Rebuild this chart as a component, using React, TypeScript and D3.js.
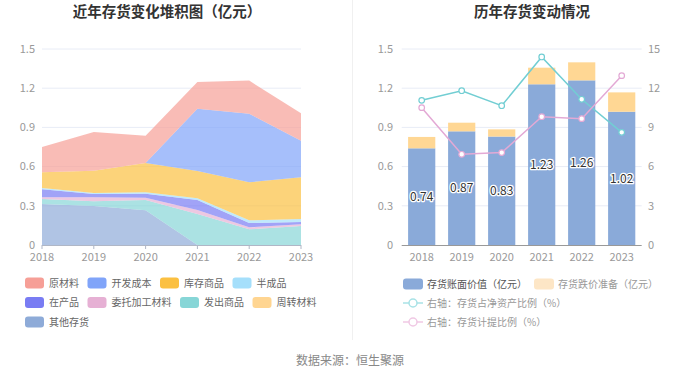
import React from 'react';
import * as d3 from 'd3';

const years = ['2018', '2019', '2020', '2021', '2022', '2023'];

// Left chart: stacked inventory composition (亿元)
const rawMaterial = [0.194, 0.296, 0.209, 0.204, 0.253, 0.21];
const devCost = [0, 0, 0, 0.477, 0.525, 0.28];
const goodsInStock = [0.12, 0.171, 0.225, 0.209, 0.291, 0.319];
const semiFinished = [0.01, 0.008, 0.01, 0.013, 0.021, 0.023];
const wip = [0.061, 0.025, 0.031, 0.076, 0.033, 0.018];
const consigned = [0.013, 0.031, 0.018, 0.031, 0.015, 0.013];
const shipped = [0.038, 0.036, 0.079, 0.237, 0.12, 0.145];
const turnover = [0, 0, 0, 0, 0, 0];
const otherInv = [0.314, 0.298, 0.265, 0, 0, 0];

const leftSeries = [
  { name: '原材料', values: rawMaterial, color: '#f69f97' },
  { name: '开发成本', values: devCost, color: '#80a4f9' },
  { name: '库存商品', values: goodsInStock, color: '#fbc041' },
  { name: '半成品', values: semiFinished, color: '#a5dffb' },
  { name: '在产品', values: wip, color: '#797cf3' },
  { name: '委托加工材料', values: consigned, color: '#e6b0d4' },
  { name: '发出商品', values: shipped, color: '#87d6d7' },
  { name: '周转材料', values: turnover, color: '#ffd591' },
  { name: '其他存货', values: otherInv, color: '#8eabd8' },
];

// Right chart
const bookValue = [0.74, 0.87, 0.83, 1.23, 1.26, 1.02];
const impairment = [0.087, 0.066, 0.055, 0.127, 0.138, 0.148];
const netAssetRatio = [11.07, 11.81, 10.66, 14.39, 11.15, 8.62];
const provisionRatio = [10.51, 6.94, 7.07, 9.82, 9.67, 12.96];

const leftTicks = [0, 0.3, 0.6, 0.9, 1.2, 1.5];
const rightTicks = [0, 3, 6, 9, 12, 15];

const FONT = '"Noto Sans CJK SC", "Noto Sans", sans-serif';

export default function App() {
  const W = 700;
  const H = 378;
  const top = 49;
  const bottom = 245;

  // Left chart scales
  const lx = d3.scalePoint<string>().domain(years).range([42, 301]);
  const ly = d3.scaleLinear().domain([0, 1.5]).range([bottom, top]);

  const stackOrder = [...leftSeries].reverse();
  const tableRows = years.map((y, i) => {
    const row: any = { year: y };
    stackOrder.forEach((s) => (row[s.name] = s.values[i]));
    return row;
  });
  const stacked = d3.stack<any>().keys(stackOrder.map((s) => s.name))(tableRows);
  const area = d3
    .area<any>()
    .x((d) => lx(d.data.year) as number)
    .y0((d) => ly(d[0]))
    .y1((d) => ly(d[1]));
  const topLine = d3
    .line<any>()
    .x((d) => lx(d.data.year) as number)
    .y((d) => ly(d[1]));

  // Right chart scales
  const rx = d3.scaleBand<string>().domain(years).range([401.7, 641.7]).paddingInner(0.32).paddingOuter(0.16);
  const ry = d3.scaleLinear().domain([0, 1.5]).range([bottom, top]);
  const ry2 = d3.scaleLinear().domain([0, 15]).range([bottom, top]);
  const cx = (y: string) => (rx(y) as number) + rx.bandwidth() / 2;
  const line = d3
    .line<number>()
    .x((_, i) => cx(years[i]))
    .y((d) => ry2(d));

  // Left legend layout
  const legendItems: { name: string; color: string; x: number; y: number }[] = [];
  {
    let x = 25;
    let y = 283;
    leftSeries.forEach((s) => {
      const w = 24 + s.name.length * 10 + 8.5;
      if (x + w - 8.5 > 335) {
        x = 25;
        y += 19.5;
      }
      legendItems.push({ name: s.name, color: s.color, x, y });
      x += w;
    });
  }

  return (
    <svg
      width={W}
      height={H}
      style={{ position: 'absolute', left: 0, top: 0, background: '#fff' }}
      fontFamily={FONT}
    >
      {/* Titles */}
      <text x={167} y={17} textAnchor="middle" fontSize={14.5} fontWeight="bold" fill="#333">
        近年存货变化堆积图（亿元）
      </text>
      <text x={532} y={17} textAnchor="middle" fontSize={14.5} fontWeight="bold" fill="#333">
        历年存货变动情况
      </text>
      <line x1={352.5} x2={352.5} y1={0} y2={340} stroke="#f0f0f0" />

      {/* Left chart grid */}
      {leftTicks.map((t) => (
        <g key={'lg' + t}>
          {t > 0 && <line x1={42} x2={301} y1={ly(t)} y2={ly(t)} stroke="#e8ecf6" />}
          <text x={35} y={ly(t)} dy="0.35em" textAnchor="end" fontSize={11} fill="#999">
            {t === 0 ? '0' : t.toFixed(1)}
          </text>
        </g>
      ))}
      {stacked.map((layer, i) => {
        const s = stackOrder[i];
        return (
          <g key={s.name}>
            <path d={area(layer) as string} fill={s.color} fillOpacity={0.7} />
          </g>
        );
      })}
      <line x1={42} x2={301} y1={bottom + 0.5} y2={bottom + 0.5} stroke="#b0b7c6" />
      {years.map((y) => (
        <g key={'lx' + y}>
          <line x1={lx(y)} x2={lx(y)} y1={bottom} y2={bottom + 4} stroke="#b0b7c6" />
          <text x={lx(y)} y={257} dy="0.35em" textAnchor="middle" fontSize={11} fill="#999">
            {y}
          </text>
        </g>
      ))}

      {/* Left legend */}
      {legendItems.map((it) => (
        <g key={'ll' + it.name}>
          <rect x={it.x} y={it.y - 5.5} width={19} height={11} rx={3} fill={it.color} />
          <text x={it.x + 24} y={it.y} dy="0.35em" fontSize={10} fill="#666">
            {it.name}
          </text>
        </g>
      ))}

      {/* Right chart grid */}
      {leftTicks.map((t, i) => (
        <g key={'rg' + t}>
          {t > 0 && <line x1={401.7} x2={641.7} y1={ry(t)} y2={ry(t)} stroke="#e8ecf6" />}
          <text x={393} y={ry(t)} dy="0.35em" textAnchor="end" fontSize={11} fill="#999">
            {t === 0 ? '0' : t.toFixed(1)}
          </text>
          <text x={648} y={ry2(rightTicks[i])} dy="0.35em" textAnchor="start" fontSize={11} fill="#999">
            {rightTicks[i]}
          </text>
        </g>
      ))}
      {years.map((y, i) => (
        <g key={'bar' + y}>
          <rect
            x={rx(y)}
            y={ry(bookValue[i])}
            width={rx.bandwidth()}
            height={bottom - ry(bookValue[i])}
            fill="#8aaad9"
          />
          <rect
            x={rx(y)}
            y={ry(bookValue[i] + impairment[i])}
            width={rx.bandwidth()}
            height={ry(bookValue[i]) - ry(bookValue[i] + impairment[i])}
            fill="#ffd794"
          />
        </g>
      ))}
      <line x1={401.7} x2={641.7} y1={bottom + 0.5} y2={bottom + 0.5} stroke="#999" />
      {years.map((y) => (
        <text key={'rx' + y} x={cx(y)} y={257} dy="0.35em" textAnchor="middle" fontSize={11} fill="#999">
          {y}
        </text>
      ))}
      <path d={line(netAssetRatio) as string} fill="none" stroke="#72ced3" strokeWidth={1.5} />
      <path d={line(provisionRatio) as string} fill="none" stroke="#e3a9d5" strokeWidth={1.5} />
      {netAssetRatio.map((v, i) => (
        <circle key={'nc' + i} cx={cx(years[i])} cy={ry2(v)} r={2.8} fill="#fff" stroke="#72ced3" strokeWidth={1.2} />
      ))}
      {provisionRatio.map((v, i) => (
        <circle key={'pc' + i} cx={cx(years[i])} cy={ry2(v)} r={2.8} fill="#fff" stroke="#e3a9d5" strokeWidth={1.2} />
      ))}
      {years.map((y, i) => (
        <text
          key={'bl' + y}
          x={cx(y)}
          y={(ry(bookValue[i]) + bottom) / 2}
          dy="0.35em"
          textAnchor="middle"
          fontSize={12}
          fill="#333"
          stroke="#fff"
          strokeWidth={2.5}
          paintOrder="stroke"
          strokeLinejoin="round"
        >
          {bookValue[i].toFixed(2)}
        </text>
      ))}

      {/* Right legend */}
      <g>
        <rect x={403} y={278.5} width={20} height={11} rx={3} fill="#8aaad9" />
        <text x={427} y={284} dy="0.35em" fontSize={10} fill="#555">
          存货账面价值（亿元）
        </text>
        <rect x={534} y={278.5} width={20} height={11} rx={3} fill="#fde6c6" />
        <text x={558} y={284} dy="0.35em" fontSize={10} fill="#999">
          存货跌价准备（亿元）
        </text>
        <line x1={403} x2={423} y1={303} y2={303} stroke="#a8e2e6" strokeWidth={1.5} />
        <circle cx={413} cy={303} r={4} fill="#fff" stroke="#a8e2e6" strokeWidth={1.5} />
        <text x={427} y={303} dy="0.35em" fontSize={10} fill="#999">
          右轴：存货占净资产比例（%）
        </text>
        <line x1={403} x2={423} y1={322} y2={322} stroke="#f0c8e4" strokeWidth={1.5} />
        <circle cx={413} cy={322} r={4} fill="#fff" stroke="#f0c8e4" strokeWidth={1.5} />
        <text x={427} y={322} dy="0.35em" fontSize={10} fill="#999">
          右轴：存货计提比例（%）
        </text>
      </g>

      {/* Source */}
      <text x={350} y={361} dy="0.35em" textAnchor="middle" fontSize={12} fill="#888">
        数据来源：恒生聚源
      </text>
    </svg>
  );
}
